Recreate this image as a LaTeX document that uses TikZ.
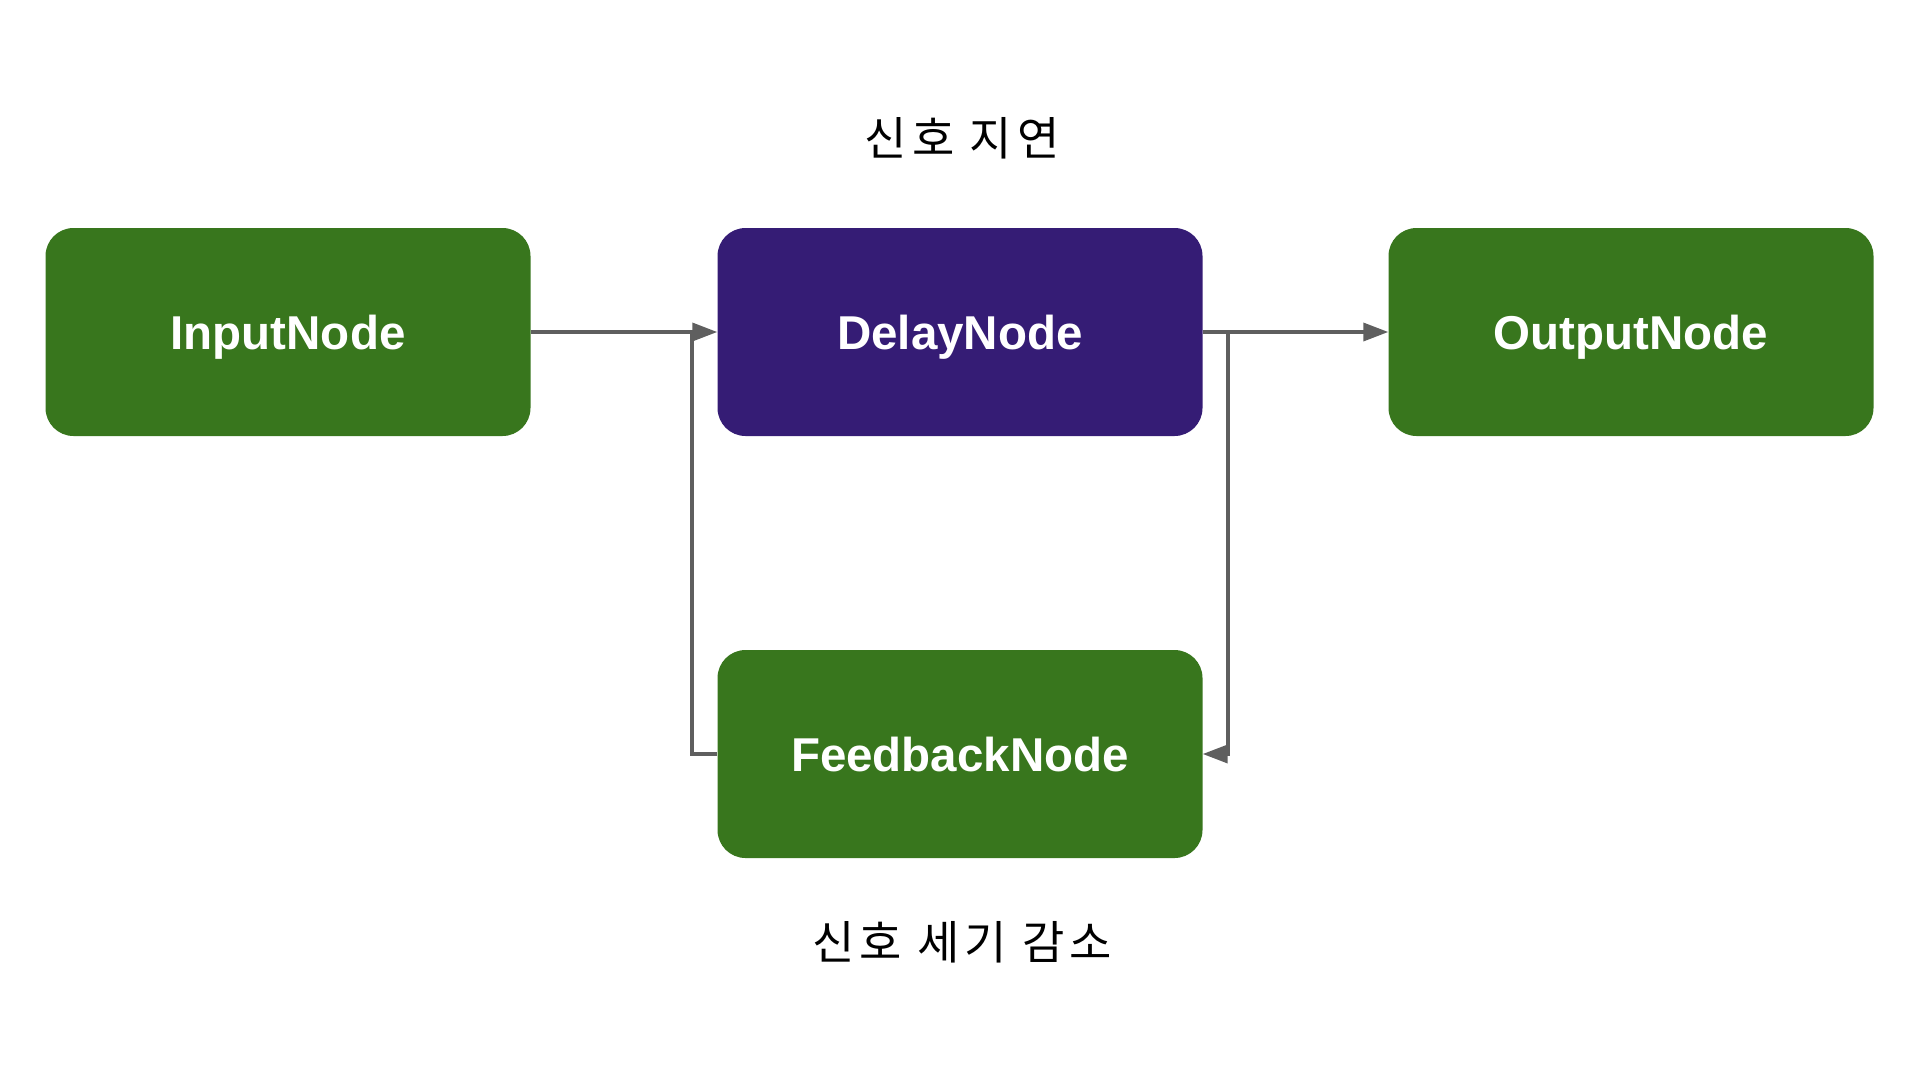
\documentclass[tikz,border=0pt]{standalone}
\usepackage{fontspec}
\setmainfont{Liberation Sans}
\newfontfamily\krfont[LetterSpace=11]{Noto Sans CJK KR}
\usetikzlibrary{arrows.meta}
\definecolor{boxgreen}{HTML}{38761D}
\definecolor{boxpurple}{HTML}{351C75}
\definecolor{wire}{HTML}{5F5F5F}
\begin{document}
\begin{tikzpicture}[x=1pt,y=-1pt,
  block/.style={rounded corners=28pt, minimum width=485pt, minimum height=208pt,
    inner sep=0pt, text height=34pt, text depth=0pt, text=white,
    font=\fontsize{47.5}{56}\selectfont\bfseries},
  greenblock/.style={block, fill=boxgreen},
  purpleblock/.style={block, fill=boxpurple},
  wireline/.style={draw=wire, line width=3.5pt},
  wirearrow/.style={wireline, -{Triangle[length=25pt,width=18pt]}},
  caption/.style={font=\krfont\fontsize{46}{56}\selectfont, text=black}]
  \useasboundingbox (0,0) rectangle (1920,1080);

  % processing blocks
  \node[greenblock]  (input)    at (288,332)  {InputNode};
  \node[purpleblock] (delay)    at (960,332)  {DelayNode};
  \node[greenblock]  (output)   at (1631,332) {OutputNode};
  \node[greenblock]  (feedback) at (960,754)  {FeedbackNode};

  % captions
  \node[caption] (delaycap) at (962,138) {신호 지연};
  \node[caption] (gaincap)  at (962,942) {신호 세기 감소};

  % routing points of the feedback loop
  \coordinate (rtop) at (1228,332);
  \coordinate (rbot) at (1228,754);
  \coordinate (lbot) at (692,754);
  \coordinate (ltop) at (692,332);

  % forward path
  \draw[wirearrow] (input.east) -- (delay.west);
  \draw[wirearrow] (delay.east) -- (output.west);

  % feedback loop
  \draw[wirearrow] (delay.east) -- (rtop) -- (rbot) -- (feedback.east);
  \draw[wireline] (feedback.west) -- (lbot) -- (ltop);
\end{tikzpicture}
\end{document}
